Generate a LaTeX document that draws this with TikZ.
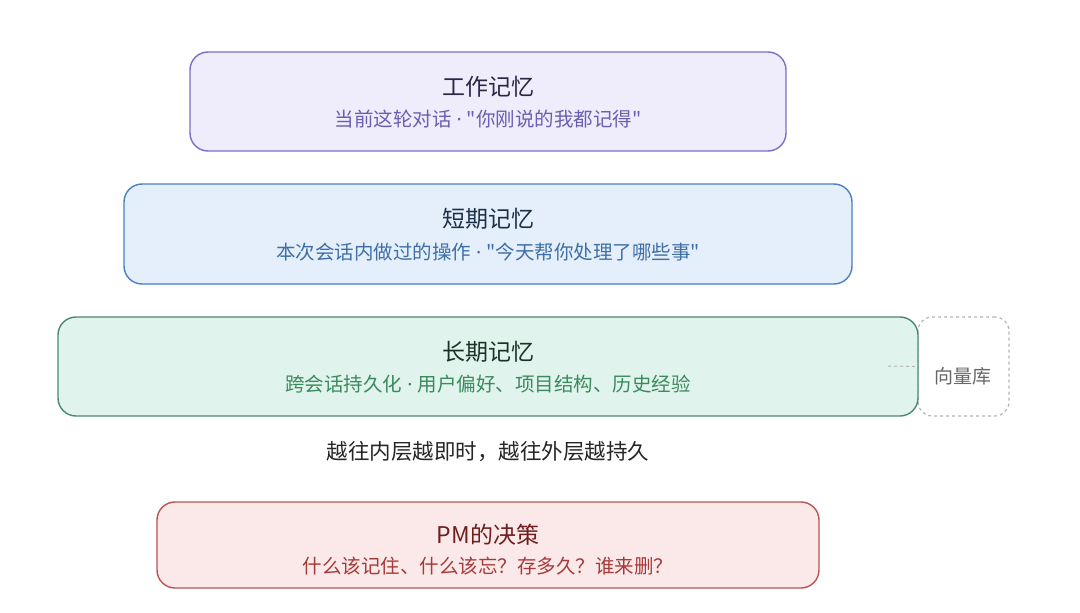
\documentclass[tikz,border=0pt]{standalone}
\usepackage{fontspec}
\setmainfont{Noto Sans CJK SC}
\newfontfamily\cjk{Noto Sans CJK SC}
\newfontfamily\lat{Noto Sans}
\newcommand{\mdot}{{\lat\ ·\ }}
\usetikzlibrary{positioning}
\definecolor{wmfill}{HTML}{EFECFC}
\definecolor{wmdraw}{HTML}{7E6FC6}
\definecolor{wmtitle}{HTML}{2A2745}
\definecolor{wmsub}{HTML}{6A5FB0}
\definecolor{stfill}{HTML}{E5EFFB}
\definecolor{stdraw}{HTML}{4A7FC0}
\definecolor{sttitle}{HTML}{1C3048}
\definecolor{stsub}{HTML}{3F6FA6}
\definecolor{ltfill}{HTML}{E0F3EC}
\definecolor{ltdraw}{HTML}{4A8A6C}
\definecolor{lttitle}{HTML}{1B3327}
\definecolor{ltsub}{HTML}{3A8A5E}
\definecolor{pmfill}{HTML}{FBE9E9}
\definecolor{pmdraw}{HTML}{B85450}
\definecolor{pmtitle}{HTML}{6E1E1E}
\definecolor{pmsub}{HTML}{A63A3A}
\definecolor{vgray}{HTML}{B5B5B5}
\definecolor{vtext}{HTML}{666666}
\tikzset{
  layerbox/.style={rounded corners=18pt, line width=1.4pt},
  titletext/.style={font=\cjk\fontsize{23}{27}\selectfont, anchor=center, inner sep=0pt},
  subtext/.style={font=\cjk\fontsize{19.5}{23}\selectfont, anchor=center, inner sep=0pt},
  vecbox/.style={rounded corners=14pt, draw=vgray, dashed, line width=1.2pt, fill=white},
}
\begin{document}
\begin{tikzpicture}[x=1pt,y=-1pt]
\useasboundingbox (0,0) rectangle (1080,613);
\fill[white] (0,0) rectangle (1080,613);
% working memory
\draw[layerbox, fill=wmfill, draw=wmdraw] (190,52) rectangle (786,151);
\node[titletext, text=wmtitle] (wmt) at (488,87) {工作记忆};
\node[subtext, text=wmsub] (wms) at (488,119) {当前这轮对话\mdot{}"你刚说的我都记得"};
% short-term
\draw[layerbox, fill=stfill, draw=stdraw] (124,184) rectangle (852,284);
\node[titletext, text=sttitle] (stt) at (488,219) {短期记忆};
\node[subtext, text=stsub] (sts) at (488,252) {本次会话内做过的操作\mdot{}"今天帮你处理了哪些事"};
% vector store
\node[vecbox, minimum width=91pt, minimum height=99pt, inner sep=0pt] (vec) at (963.5,366.5) {};
\node[font=\cjk\fontsize{19}{23}\selectfont, text=vtext, inner sep=0pt] (vect) at (963,376) {向量库};
% long-term
\draw[layerbox, fill=ltfill, draw=ltdraw] (58,317) rectangle (918,416);
\node[titletext, text=lttitle] (ltt) at (488,352) {长期记忆};
\node[subtext, text=ltsub] (lts) at (488,384) {跨会话持久化\mdot{}用户偏好、项目结构、历史经验};
\coordinate (lk) at (888,366);
\draw[vgray, dashed, line width=1pt] (lk) -- (vec.west);
% caption
\node[font=\cjk\fontsize{21.5}{25}\selectfont, text=black!85, inner sep=0pt] (cap) at (488,452) {越往内层越即时，越往外层越持久};
% PM
\draw[layerbox, fill=pmfill, draw=pmdraw] (157,502) rectangle (819,588);
\node[titletext, text=pmtitle] (pmt) at (488,535) {PM的决策};
\node[subtext, text=pmsub] (pms) at (488,566) {什么该记住、什么该忘？存多久？谁来删？};
\end{tikzpicture}
\end{document}
